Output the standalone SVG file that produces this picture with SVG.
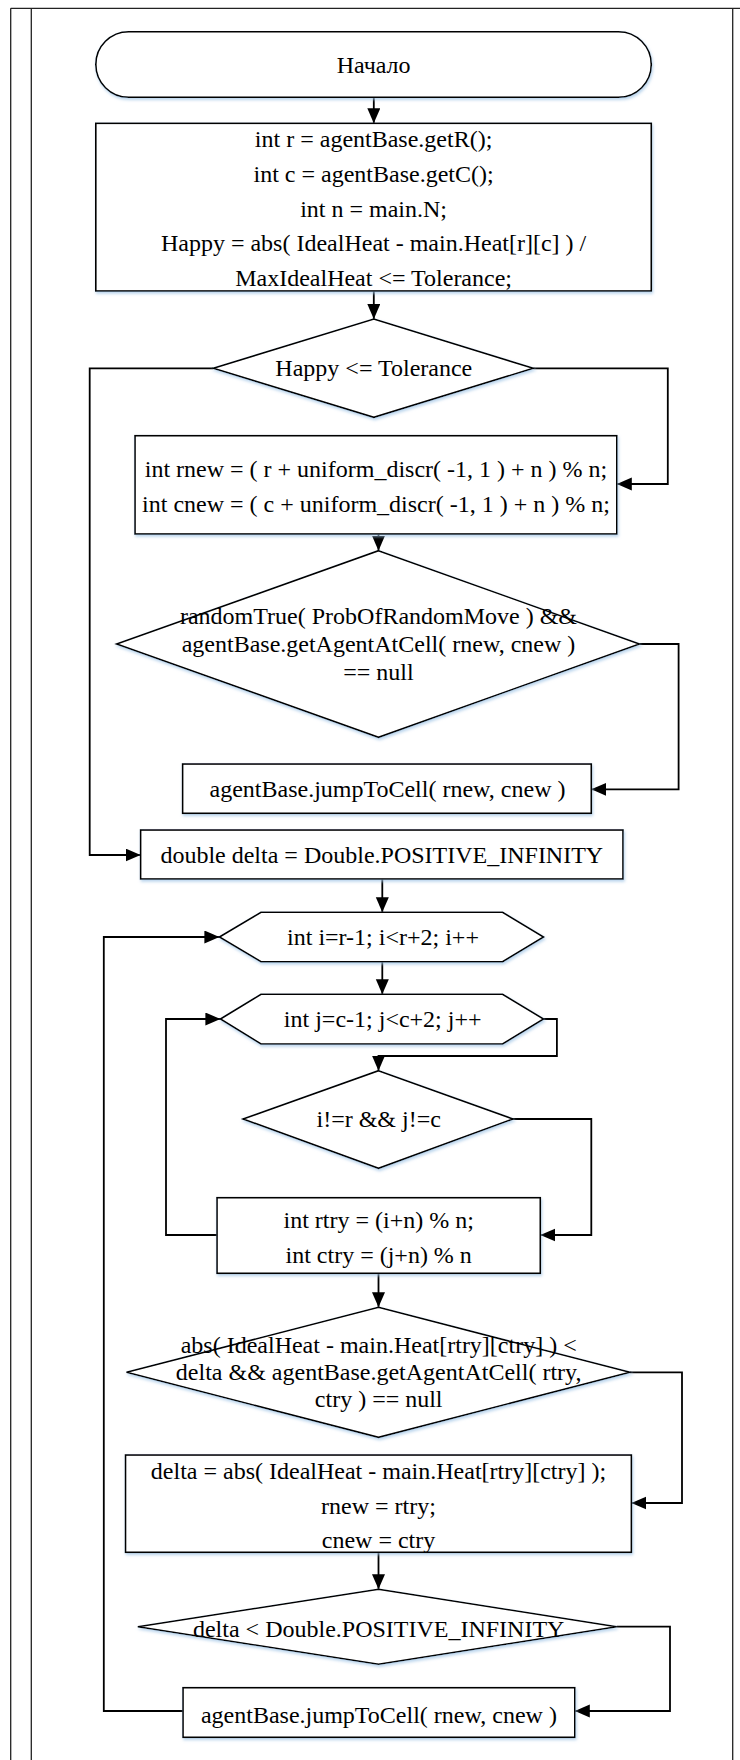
<svg xmlns="http://www.w3.org/2000/svg" width="740" height="1760" viewBox="0 0 740 1760">
  <style>
    .frame { fill: none; stroke: #222; stroke-width: 1.3; }
    .shape { fill: #fff; stroke: #000; stroke-width: 1.6; filter: url(#shadow); }
    .edge { fill: none; stroke: #000; stroke-width: 1.8; }
    .arrow { marker-end: url(#head); }
    text { font-family: "Liberation Serif", "Times New Roman", serif; font-size: 24px; fill: #000; text-anchor: middle; }
  </style>
  <defs>
    <filter id="shadow" x="-5%" y="-10%" width="110%" height="130%">
      <feDropShadow dx="1" dy="2" stdDeviation="1.6" flood-color="#9cc2e5" flood-opacity="0.7"/>
    </filter>
    <marker id="head" markerUnits="userSpaceOnUse" markerWidth="16" markerHeight="14" refX="15" refY="6.5" orient="auto">
      <path d="M0,0 L15,6.5 L0,13 z" fill="#000"/>
    </marker>
  </defs>

  <!-- page frame -->
  <g id="frame">
    <line class="frame" x1="10.7" y1="8.3" x2="740" y2="8.3"/>
    <line class="frame" x1="10.7" y1="8.3" x2="10.7" y2="1760"/>
    <line class="frame" x1="31.3" y1="8.3" x2="31.3" y2="1760"/>
    <line class="frame" x1="732.7" y1="8.3" x2="732.7" y2="1760"/>
  </g>

  <!-- connectors -->
  <g id="connectors">
    <path class="edge arrow" d="M373.8,97.3 L373.8,123.3"/>
    <path class="edge arrow" d="M373.8,291 L373.8,319"/>
    <path class="edge arrow" d="M213.3,368.3 L89.7,368.3 L89.7,855 L140.6,855"/>
    <path class="edge arrow" d="M533.3,368.3 L667.8,368.3 L667.8,484 L616.8,484"/>
    <path class="edge arrow" d="M378.5,534 L378.5,550.7"/>
    <path class="edge arrow" d="M639.5,644 L678.6,644 L678.6,789.3 L591.3,789.3"/>
    <path class="edge arrow" d="M382.3,879 L382.3,912.3"/>
    <path class="edge arrow" d="M382.3,961.7 L382.3,994.3"/>
    <path class="edge arrow" d="M543.6,1019 L556.9,1019 L556.9,1056 L378.5,1056 L378.5,1070.7"/>
    <path class="edge arrow" d="M513,1119 L591.3,1119 L591.3,1235 L540.3,1235"/>
    <path class="edge arrow" d="M217,1235 L166,1235 L166,1019 L220.4,1019"/>
    <path class="edge arrow" d="M378.5,1273.3 L378.5,1307.3"/>
    <path class="edge arrow" d="M630,1372.3 L682,1372.3 L682,1503 L631.4,1503"/>
    <path class="edge arrow" d="M378.5,1552.3 L378.5,1589.3"/>
    <path class="edge arrow" d="M616.8,1626.7 L670,1626.7 L670,1711 L574.8,1711"/>
    <path class="edge arrow" d="M183,1711 L103.8,1711 L103.8,937 L219.4,937"/>
  </g>

  <!-- start -->
  <g id="start">
    <rect class="shape" x="95.8" y="31.7" width="555.5" height="65.6" rx="32.8" ry="32.8"/>
    <text x="373.6" y="72.7">Начало</text>
  </g>

  <!-- initial assignments -->
  <g id="init">
    <rect class="shape" x="95.8" y="123.3" width="555.5" height="167.7"/>
    <text x="373.6" y="147.3">int r = agentBase.getR();</text>
    <text x="373.6" y="182">int c = agentBase.getC();</text>
    <text x="373.6" y="216.7">int n = main.N;</text>
    <text x="373.6" y="251.4">Happy = abs( IdealHeat - main.Heat[r][c] ) /</text>
    <text x="373.6" y="286">MaxIdealHeat &lt;= Tolerance;</text>
  </g>

  <!-- happiness test -->
  <g id="happy-check">
    <polygon class="shape" points="373.8,319 533.3,368.3 373.8,417.3 213.3,368.3"/>
    <text x="373.8" y="375.7">Happy &lt;= Tolerance</text>
  </g>

  <!-- random neighbour -->
  <g id="random-cell">
    <rect class="shape" x="135" y="435.7" width="481.8" height="98.3"/>
    <text x="376" y="476.7">int rnew = ( r + uniform_discr( -1, 1 ) + n ) % n;</text>
    <text x="376" y="511.7">int cnew = ( c + uniform_discr( -1, 1 ) + n ) % n;</text>
  </g>

  <!-- random move test -->
  <g id="random-check">
    <polygon class="shape" points="378.5,550.7 639.5,644 378.5,737.3 116.6,644"/>
    <text x="378.5" y="624.3">randomTrue( ProbOfRandomMove ) &amp;&amp;</text>
    <text x="378.5" y="652.3">agentBase.getAgentAtCell( rnew, cnew )</text>
    <text x="378.5" y="680">== null</text>
  </g>

  <!-- random jump -->
  <g id="random-jump">
    <rect class="shape" x="182.6" y="764" width="408.7" height="49.3"/>
    <text x="387.5" y="797.3">agentBase.jumpToCell( rnew, cnew )</text>
  </g>

  <!-- delta init -->
  <g id="delta-init">
    <rect class="shape" x="140.6" y="830" width="482.4" height="49"/>
    <text x="381.8" y="863.3">double delta = Double.POSITIVE_INFINITY</text>
  </g>

  <!-- outer loop -->
  <g id="loop-i">
    <polygon class="shape" points="219.4,937 261,912.3 502.6,912.3 543.6,937 502.6,961.7 261,961.7"/>
    <text x="383" y="945">int i=r-1; i&lt;r+2; i++</text>
  </g>

  <!-- inner loop -->
  <g id="loop-j">
    <polygon class="shape" points="220.4,1019 261,994.3 502.6,994.3 543.6,1019 502.6,1044 261,1044"/>
    <text x="382.7" y="1026.7">int j=c-1; j&lt;c+2; j++</text>
  </g>

  <!-- skip own cell -->
  <g id="self-check">
    <polygon class="shape" points="378.5,1070.7 513,1119 378.5,1168.3 243,1119"/>
    <text x="378.7" y="1126.7">i!=r &amp;&amp; j!=c</text>
  </g>

  <!-- wrapped coordinates -->
  <g id="try-cell">
    <rect class="shape" x="217" y="1197.7" width="323.3" height="75.6"/>
    <text x="378.7" y="1228">int rtry = (i+n) % n;</text>
    <text x="378.7" y="1263">int ctry = (j+n) % n</text>
  </g>

  <!-- better cell test -->
  <g id="better-check">
    <polygon class="shape" points="378.5,1307.3 630,1372.3 378.5,1437.3 126.5,1372.3"/>
    <text x="378.7" y="1352.7">abs( IdealHeat - main.Heat[rtry][ctry] ) &lt;</text>
    <text x="378.7" y="1380.3">delta &amp;&amp; agentBase.getAgentAtCell( rtry,</text>
    <text x="378.7" y="1407.3">ctry ) == null</text>
  </g>

  <!-- remember best -->
  <g id="store-best">
    <rect class="shape" x="125.5" y="1455" width="505.9" height="97.3"/>
    <text x="378.5" y="1479.3">delta = abs( IdealHeat - main.Heat[rtry][ctry] );</text>
    <text x="378.5" y="1514">rnew = rtry;</text>
    <text x="378.5" y="1548.3">cnew = ctry</text>
  </g>

  <!-- found test -->
  <g id="found-check">
    <polygon class="shape" points="378.5,1589.3 616.8,1626.7 378.5,1664.3 137.8,1626.7"/>
    <text x="378.7" y="1636.7">delta &lt; Double.POSITIVE_INFINITY</text>
  </g>

  <!-- final jump -->
  <g id="best-jump">
    <rect class="shape" x="183" y="1687.7" width="391.8" height="49.6"/>
    <text x="378.9" y="1723.3">agentBase.jumpToCell( rnew, cnew )</text>
  </g>
</svg>
